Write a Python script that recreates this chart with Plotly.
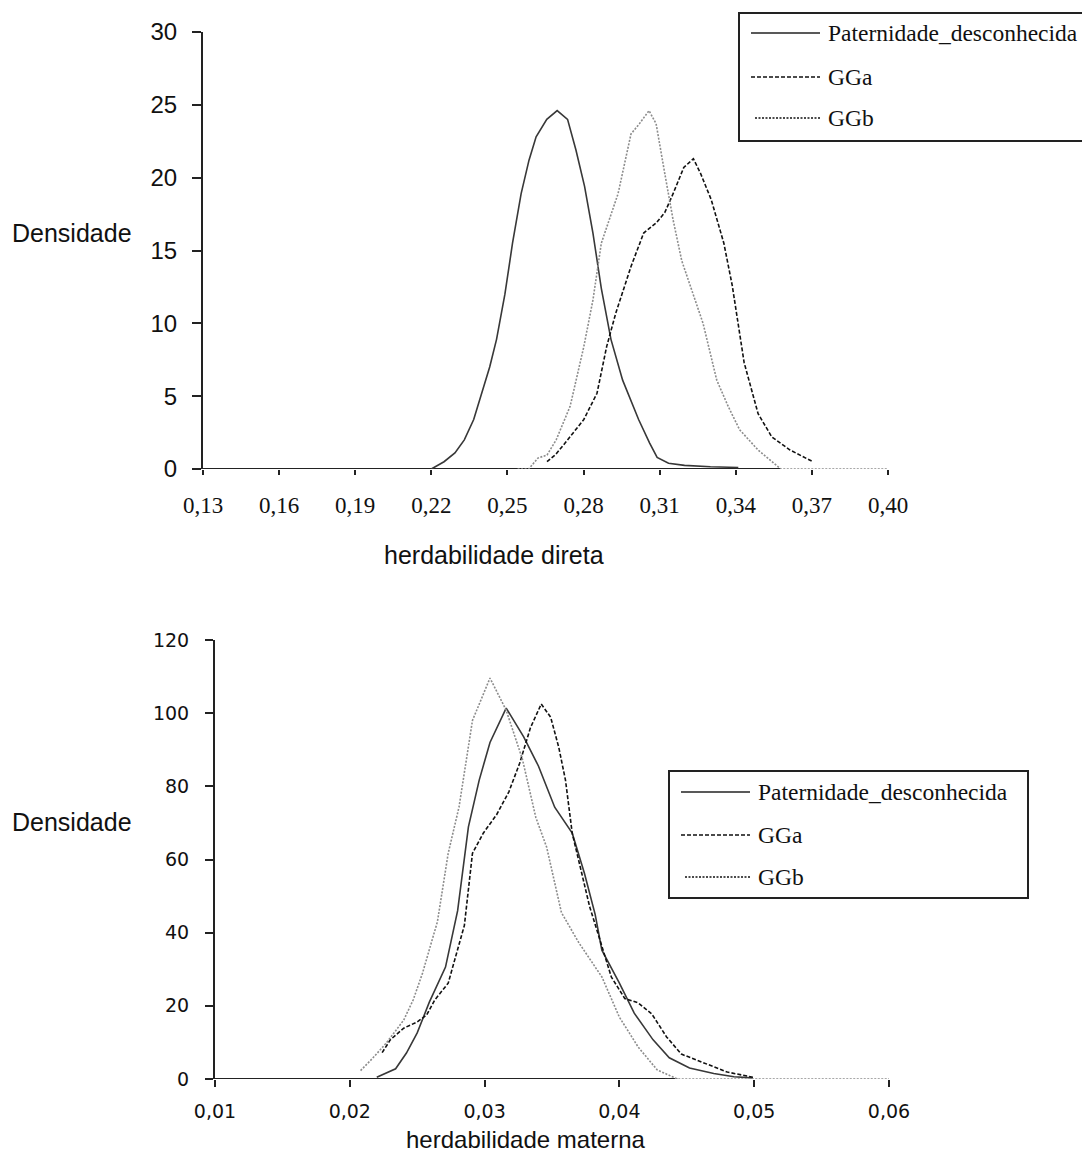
import plotly.graph_objects as go

W, H = 1082, 1154

# ---------------- data: herdabilidade direta ----------------
DIR_PD_X = [0.2200, 0.2250, 0.2293, 0.2330, 0.2367, 0.2403, 0.2430, 0.2457, 0.2490, 0.2520,
            0.2554, 0.2585, 0.2613, 0.2655, 0.2696, 0.2737, 0.2770, 0.2804, 0.2837, 0.2870,
            0.2908, 0.2954, 0.3017, 0.3060, 0.3090, 0.3135, 0.3198, 0.3300, 0.3410]
DIR_PD_Y = [0.0, 0.5, 1.1, 2.0, 3.4, 5.4, 7.0, 8.9, 12.0, 15.5,
            18.9, 21.2, 22.8, 24.0, 24.6, 24.0, 21.9, 19.4, 16.2, 12.4,
            8.9, 6.1, 3.4, 1.8, 0.8, 0.4, 0.25, 0.15, 0.1]

DIR_GGA_X = [0.2656, 0.2690, 0.2728, 0.2801, 0.2853, 0.2891, 0.2927, 0.2960, 0.2987, 0.3037,
             0.3087, 0.3120, 0.3153, 0.3195, 0.3233, 0.3261, 0.3303, 0.3353, 0.3386, 0.3433,
             0.3488, 0.3542, 0.3614, 0.3704]
DIR_GGA_Y = [0.5, 1.0, 1.8, 3.4, 5.2, 8.4, 10.7, 12.5, 13.9, 16.2,
             16.9, 17.6, 18.9, 20.7, 21.3, 20.3, 18.5, 15.5, 12.6, 7.3,
             3.8, 2.2, 1.3, 0.5]

DIR_GGB_X = [0.2540, 0.2584, 0.2620, 0.2656, 0.2692, 0.2747, 0.2801, 0.2837, 0.2870, 0.2936,
             0.2987, 0.3020, 0.3058, 0.3086, 0.3120, 0.3153, 0.3187, 0.3225, 0.3271, 0.3325,
             0.3370, 0.3415, 0.3488, 0.3578, 0.3700, 0.3850, 0.4000]
DIR_GGB_Y = [0.0, 0.0, 0.75, 0.96, 2.0, 4.3, 8.4, 11.6, 15.5, 18.9,
             23.0, 23.7, 24.6, 23.7, 20.3, 17.1, 14.3, 12.3, 10.0, 6.1,
             4.3, 2.7, 1.3, 0.0, 0.0, 0.0, 0.0]

# ---------------- data: herdabilidade materna ----------------
MAT_PD_X = [0.0220, 0.0234, 0.0242, 0.0250, 0.0259, 0.0271, 0.0280, 0.0288, 0.0296, 0.0304,
            0.0316, 0.0329, 0.0340, 0.0352, 0.0365, 0.0374, 0.0382, 0.0387, 0.0400, 0.0411,
            0.0425, 0.0437, 0.0452, 0.0470, 0.0485, 0.0499]
MAT_PD_Y = [0.5, 2.8, 7.1, 12.6, 21.0, 30.6, 46.0, 68.9, 81.7, 92.0,
            101.4, 93.5, 85.5, 74.3, 67.2, 56.3, 45.0, 35.2, 26.2, 18.0,
            10.7, 5.8, 3.0, 1.5, 0.6, 0.3]

MAT_GGA_X = [0.0224, 0.0230, 0.0240, 0.0250, 0.0257, 0.0263, 0.0273, 0.0278, 0.0285, 0.0291,
             0.0299, 0.0309, 0.0318, 0.0326, 0.0334, 0.0342, 0.0349, 0.0355, 0.0360, 0.0365,
             0.0371, 0.0378, 0.0384, 0.0394, 0.0404, 0.0414, 0.0424, 0.0435, 0.0446, 0.0462,
             0.0480, 0.0499]
MAT_GGA_Y = [7.2, 10.7, 13.9, 15.6, 17.5, 21.6, 26.2, 32.5, 42.0, 61.7,
             67.2, 72.3, 78.5, 86.3, 96.0, 102.5, 98.9, 90.7, 81.7, 67.2,
             57.9, 47.0, 39.9, 27.9, 22.0, 20.8, 17.8, 11.5, 6.8, 4.4,
             1.9, 0.5]

MAT_GGB_X = [0.0208, 0.0217, 0.0227, 0.0240, 0.0247, 0.0254, 0.0265, 0.0273, 0.0281, 0.0291,
             0.0304, 0.0316, 0.0328, 0.0338, 0.0346, 0.0357, 0.0370, 0.0387, 0.0400, 0.0414,
             0.0428, 0.0443, 0.0500, 0.0550, 0.0600]
MAT_GGB_Y = [2.3, 5.7, 9.8, 16.1, 21.6, 29.0, 43.0, 61.7, 74.3, 98.0,
             109.6, 100.8, 87.5, 71.5, 63.4, 45.5, 37.2, 27.9, 16.9, 8.7,
             2.5, 0.0, 0.0, 0.0, 0.0]

SERIES = ["Paternidade_desconhecida", "GGa", "GGb"]

X_TICKS_DIR = [0.13, 0.16, 0.19, 0.22, 0.25, 0.28, 0.31, 0.34, 0.37, 0.40]
Y_TICKS_DIR = [0, 5, 10, 15, 20, 25, 30]
X_TICKS_MAT = [0.01, 0.02, 0.03, 0.04, 0.05, 0.06]
Y_TICKS_MAT = [0, 20, 40, 60, 80, 100, 120]

X_TITLE_DIR = "herdabilidade direta"
X_TITLE_MAT = "herdabilidade materna"
Y_TITLE = "Densidade"

STYLE = {
    "Paternidade_desconhecida": dict(color="#383838", width=1.6, dash="solid"),
    "GGa": dict(color="#111111", width=1.6, dash="4px,2px"),
    "GGb": dict(color="#8c8c8c", width=1.6, dash="2px,1.5px"),
}

def fx(p):
    return p / W

def fy(p):
    return 1 - p / H

def comma(v):
    return f"{v:.2f}".replace(".", ",")

fig = go.Figure()

panels = [
    ("x", "y", [(DIR_PD_X, DIR_PD_Y), (DIR_GGA_X, DIR_GGA_Y), (DIR_GGB_X, DIR_GGB_Y)]),
    ("x2", "y2", [(MAT_PD_X, MAT_PD_Y), (MAT_GGA_X, MAT_GGA_Y), (MAT_GGB_X, MAT_GGB_Y)]),
]
for xa, ya, data in panels:
    for name, (xs, ys) in zip(SERIES, data):
        fig.add_trace(go.Scatter(x=xs, y=ys, mode="lines", name=name, xaxis=xa, yaxis=ya,
                                 line=dict(**STYLE[name]), showlegend=False,
                                 hoverinfo="skip"))

AX = "#222222"
common_x = dict(showline=False, showgrid=False, zeroline=False, ticks="outside",
                tickwidth=2, tickcolor=AX, automargin=False, tickmode="array")
common_y = dict(showline=True, linecolor=AX, linewidth=2, showgrid=False, zeroline=False,
                ticks="outside", tickwidth=2, tickcolor=AX, automargin=False,
                tickmode="array")

fig.update_layout(
    width=W, height=H, margin=dict(l=0, r=0, t=0, b=0),
    paper_bgcolor="white", plot_bgcolor="white", showlegend=False,
    xaxis=dict(domain=[fx(203), fx(888)], range=[X_TICKS_DIR[0], X_TICKS_DIR[-1]], anchor="y",
               tickvals=X_TICKS_DIR, ticktext=[comma(v) for v in X_TICKS_DIR], ticklen=5,
               ticklabelstandoff=10,
               tickfont=dict(family="Liberation Serif", size=23, color="#111"), **common_x),
    yaxis=dict(domain=[fy(469), fy(32)], range=[Y_TICKS_DIR[0], Y_TICKS_DIR[-1]], anchor="x",
               tickvals=Y_TICKS_DIR, ticktext=[str(v) for v in Y_TICKS_DIR], ticklen=9,
               ticklabelstandoff=10,
               tickfont=dict(family="Liberation Sans", size=24, color="#111"), **common_y),
    xaxis2=dict(domain=[fx(215), fx(889)], range=[X_TICKS_MAT[0], X_TICKS_MAT[-1]], anchor="y2",
                tickvals=X_TICKS_MAT, ticktext=[comma(v) for v in X_TICKS_MAT], ticklen=7,
                ticklabelstandoff=8,
                tickfont=dict(family="DejaVu Sans", size=19, color="#111"), **common_x),
    yaxis2=dict(domain=[fy(1079), fy(640)], range=[Y_TICKS_MAT[0], Y_TICKS_MAT[-1]], anchor="x2",
                tickvals=Y_TICKS_MAT, ticktext=[str(v) for v in Y_TICKS_MAT], ticklen=8,
                ticklabelstandoff=12,
                tickfont=dict(family="DejaVu Sans", size=19, color="#111"), **common_y),
)

# baseline (x axis line): from axis start to where GGb returns to zero after its peak
def zero_after_peak(xs, ys):
    ipk = ys.index(max(ys))
    for i in range(ipk, len(ys)):
        if ys[i] == 0:
            return xs[i]
    return xs[-1]

shapes = []
shapes.append(dict(type="line", xref="x", yref="y", x0=X_TICKS_DIR[0],
                   x1=zero_after_peak(DIR_GGB_X, DIR_GGB_Y), y0=0, y1=0,
                   line=dict(color=AX, width=2), layer="below"))
shapes.append(dict(type="line", xref="x2", yref="y2", x0=X_TICKS_MAT[0],
                   x1=zero_after_peak(MAT_GGB_X, MAT_GGB_Y), y0=0, y1=0,
                   line=dict(color=AX, width=2), layer="below"))

annotations = []
# legends (drawn by hand to mirror the original boxes)
legends = [
    dict(box=(739, 13, 1095, 141), x0=751, x1=820, tx=826, rows=[33, 77, 118]),
    dict(box=(669, 771, 1028, 898), x0=681, x1=750, tx=756, rows=[792, 835, 877]),
]
for lg in legends:
    bx0, by0, bx1, by1 = lg["box"]
    shapes.append(dict(type="rect", xref="paper", yref="paper",
                       x0=fx(bx0), x1=fx(bx1), y0=fy(by1), y1=fy(by0),
                       line=dict(color="#222", width=2), fillcolor="white", layer="above"))
    for name, ry in zip(SERIES, lg["rows"]):
        st = STYLE[name]
        shapes.append(dict(type="line", xref="paper", yref="paper",
                           x0=fx(lg["x0"] + (4 if name == "GGb" else 0)), x1=fx(lg["x1"]),
                           y0=fy(ry), y1=fy(ry),
                           line=dict(color="#111" if name != "Paternidade_desconhecida" else "#222",
                                     width=1.6, dash=st["dash"]), layer="above"))
        annotations.append(dict(xref="paper", yref="paper", x=fx(lg["tx"]), y=fy(ry),
                                text=name, showarrow=False, xanchor="left", yanchor="middle",
                                font=dict(family="Liberation Serif", size=23.5, color="#111")))

# axis titles
annotations += [
    dict(xref="paper", yref="paper", x=fx(72), y=fy(233), text=Y_TITLE, showarrow=False,
         xanchor="center", yanchor="middle",
         font=dict(family="Liberation Sans", size=25, color="#111")),
    dict(xref="paper", yref="paper", x=fx(72), y=fy(822), text=Y_TITLE, showarrow=False,
         xanchor="center", yanchor="middle",
         font=dict(family="Liberation Sans", size=25, color="#111")),
    dict(xref="paper", yref="paper", x=fx(494), y=fy(555), text=X_TITLE_DIR, showarrow=False,
         xanchor="center", yanchor="middle",
         font=dict(family="Liberation Sans", size=25, color="#111")),
    dict(xref="paper", yref="paper", x=fx(525), y=fy(1139), text=X_TITLE_MAT, showarrow=False,
         xanchor="center", yanchor="middle",
         font=dict(family="Liberation Sans", size=24, color="#111")),
]

fig.update_layout(shapes=shapes, annotations=annotations)
fig.write_html("out.html")
